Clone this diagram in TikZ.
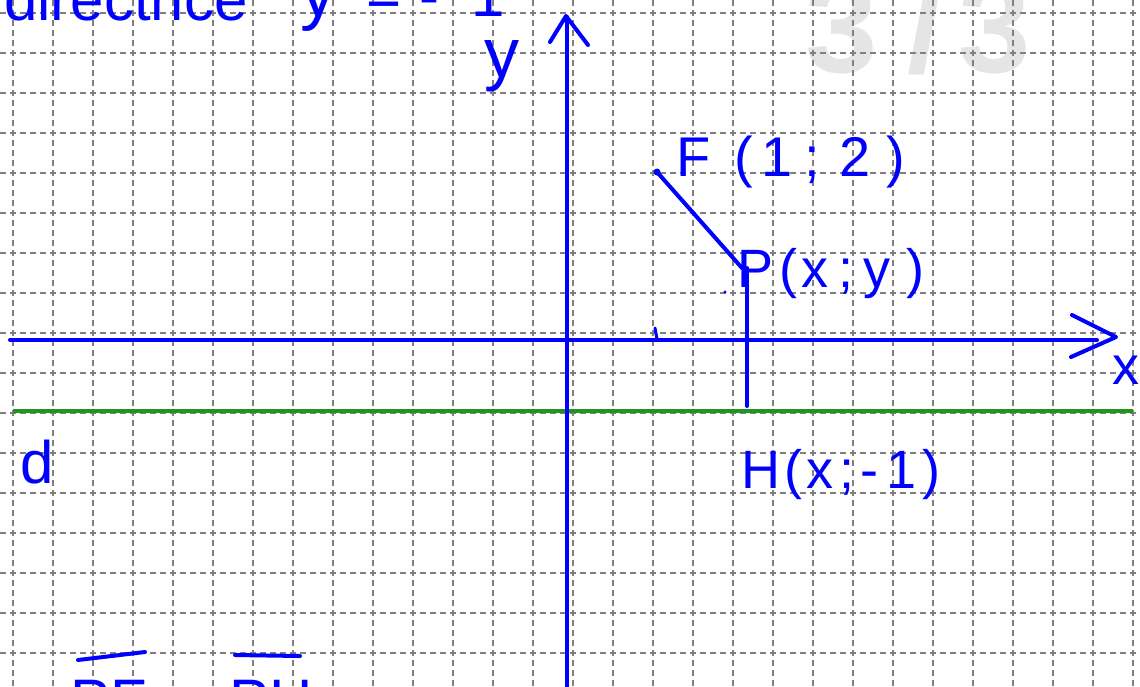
\documentclass[tikz,border=0pt]{standalone}
\usepackage{fontspec}
\setmainfont{Liberation Sans}
\definecolor{inkblue}{RGB}{0,0,255}
\definecolor{dgreen}{RGB}{30,150,30}
\begin{document}
\begin{tikzpicture}[x=1pt,y=-1pt,
  gridline/.style={draw=black!50, line width=1.5pt, dash pattern=on 6pt off 4pt},
  ink/.style={draw=inkblue, line width=4pt, line cap=round, line join=round},
  hand/.style={text=inkblue, inner sep=0pt, anchor=base west, font=\fontsize{54}{60}\selectfont},
]
\useasboundingbox (0,0) rectangle (1140,686);
\fill[white] (0,0) rectangle (1140,686);
\clip (0,0) rectangle (1140,686);
% watermark
\node[anchor=base west, inner sep=0pt, text=black!10, font=\fontsize{130}{130}\selectfont\bfseries] (wm) at (805,72) {3\hspace{30pt}/\hspace{15pt}3};
% grid
\foreach \i in {0,...,28} \draw[gridline] (13+40*\i,0) -- (13+40*\i,686);
\foreach \j in {0,...,16} \draw[gridline] (0,13+40*\j) -- (1140,13+40*\j);
% directrix
\coordinate (ds) at (13,411);
\coordinate (de) at (1133,411);
\draw[draw=dgreen, line width=4pt] (ds) -- (de);
% x axis
\coordinate (xs) at (10,340);
\coordinate (xe) at (1097,340);
\draw[ink] (xs) -- (xe);
\coordinate (xa1) at (1072,315);
\coordinate (xtip) at (1116,337);
\coordinate (xa2) at (1071,357);
\draw[ink] (xa1) -- (xtip) -- (xa2);
% y axis
\coordinate (ys) at (567,690);
\coordinate (ye) at (567,17);
\draw[ink] (ys) -- (ye);
\coordinate (ya1) at (550,42);
\coordinate (ytip) at (566,16);
\coordinate (ya2) at (588,45);
\draw[ink] (ya1) -- (ytip) -- (ya2);
% tick and stray dot
\coordinate (t1) at (655,328);
\coordinate (t2) at (657,339);
\draw[ink, line width=3pt] (t1) -- (t2);
\fill[inkblue] (725,292) circle (1.6pt);
% points
\coordinate (F) at (657,172);
\coordinate (P) at (742,268);
\coordinate (Pv) at (747,268);
\coordinate (H) at (747,406);
\fill[inkblue] (F) circle (3.5pt);
\draw[ink] (F) -- (P);
\draw[ink] (Pv) -- (H);
% labels
\node[hand, font=\fontsize{56}{60}\selectfont] (Flab) at (676,176) {F\hspace{24pt}(\hspace{8pt}1\hspace{12pt};\hspace{20pt}2\hspace{16pt})};
\node[hand] (Plab) at (737,287) {P\hspace{6pt}(\hspace{4pt}x\hspace{10pt};\hspace{10pt}y\hspace{16pt})};
\node[hand] (Hlab) at (741,488) {H\hspace{4pt}(\hspace{4pt}x\hspace{6pt};\hspace{6pt}-\hspace{8pt}1\hspace{6pt})};
\node[hand, font=\fontsize{70}{70}\selectfont] (ylab) at (484,77) {y};
\node[hand] (xlab) at (1112,384) {x};
\node[hand, font=\fontsize{60}{60}\selectfont] (dlab) at (20,483) {d};
% top text (cut off by the page edge, as in the reference)
\node[hand, font=\fontsize{60}{60}\selectfont] (dir) at (4,20) {directrice};
\node[hand, font=\fontsize{60}{60}\selectfont] (direq) at (300,16) {{\fontsize{72}{72}\selectfont y}\hspace{30pt}=\hspace{18pt}-\hspace{32pt}1};
% bottom text (cut off by the page edge, as in the reference)
\node[hand, font=\fontsize{60}{60}\selectfont] (eqn) at (70,721) {PF\hspace{24pt}=\hspace{24pt}PH};
\coordinate (o1a) at (78,660);
\coordinate (o1b) at (145,652);
\coordinate (o2a) at (235,655);
\coordinate (o2b) at (300,656);
\draw[ink] (o1a) -- (o1b);
\draw[ink] (o2a) -- (o2b);
\end{tikzpicture}
\end{document}
